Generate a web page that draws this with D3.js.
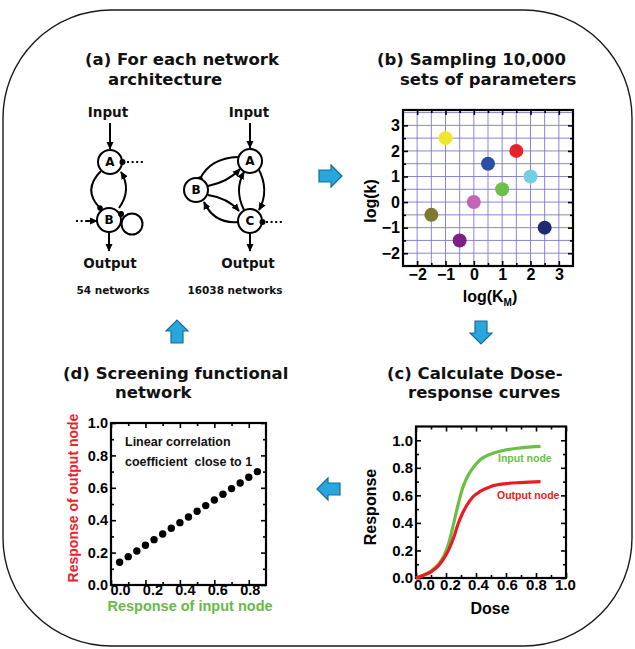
<!DOCTYPE html>
<html><head><meta charset="utf-8">
<script src="https://cdn.jsdelivr.net/npm/d3@7"></script>
<style>
html,body{margin:0;padding:0;background:#fff;}
svg{display:block;}
</style></head><body>
<svg id="fig" width="635" height="649"></svg>
<script>
// ---------- panel (b): sampled parameter sets ----------
const logKM = [-1, 1.5, 0.5, 2, 1, 0, -1.5, 2.5, -0.5];
const logK  = [2.5, 2, 1.5, 1, 0.5, 0, -0.5, -1, -1.5];
const paramColors = ["#f2e530", "#e8232a", "#2c4fa6", "#70d0e2", "#6cbf47", "#c463b5", "#7b7a2e", "#1e2a72", "#7b2183"];
const kmTicks = [-2, -1, 0, 1, 2, 3];
const kTicks = [-2, -1, 0, 1, 2, 3];
const kmGrid = [-2, -1.5, -1, -0.5, 0, 0.5, 1, 1.5, 2, 2.5, 3];
const kGrid = [-2, -1.5, -1, -0.5, 0, 0.5, 1, 1.5, 2, 2.5, 3, 3.5];

// ---------- panel (c): dose-response curves ----------
const dose =           [0, 0.05, 0.10, 0.15, 0.19, 0.22, 0.25, 0.28, 0.31, 0.34, 0.38, 0.43, 0.50, 0.60, 0.70, 0.83];
const inputResponse =  [0, 0.02, 0.05, 0.10, 0.17, 0.26, 0.39, 0.53, 0.65, 0.73, 0.80, 0.86, 0.90, 0.93, 0.945, 0.955];
const outputResponse = [0, 0.02, 0.045, 0.09, 0.15, 0.21, 0.29, 0.39, 0.47, 0.53, 0.59, 0.63, 0.665, 0.685, 0.693, 0.70];
const doseTicks = [0, 0.2, 0.4, 0.6, 0.8, 1.0];
const responseTicks = [0, 0.2, 0.4, 0.6, 0.8, 1.0];

// ---------- panel (d): screened network ----------
const inputNode  = [0.05, 0.10, 0.15, 0.20, 0.25, 0.30, 0.35, 0.40, 0.45, 0.50, 0.55, 0.60, 0.65, 0.70, 0.75, 0.80, 0.85];
const outputNode = [0.14, 0.175, 0.21, 0.245, 0.28, 0.315, 0.35, 0.385, 0.42, 0.455, 0.49, 0.525, 0.56, 0.595, 0.63, 0.665, 0.70];
const inTicks = [0, 0.2, 0.4, 0.6, 0.8];
const outTicks = [0, 0.2, 0.4, 0.6, 0.8, 1.0];

const svg = d3.select("#fig");
const TITLE_FONT = "'DejaVu Sans', Verdana, sans-serif";
const AXIS_FONT = "'Liberation Sans', Arial, sans-serif";

// outer rounded frame
svg.append("rect").attr("x", 3).attr("y", 10).attr("width", 629).attr("height", 636)
  .attr("rx", 108).attr("ry", 108).attr("fill", "none").attr("stroke", "#1a1a1a").attr("stroke-width", 1.4);

// two-line panel titles
function title(lines) {
  const t = svg.append("text").attr("font-family", TITLE_FONT).attr("font-weight", "bold")
    .attr("font-size", 16.5).attr("fill", "#111");
  lines.forEach(l => t.append("tspan").attr("x", l[0]).attr("y", l[1]).text(l[2]));
}
title([[85, 65, "(a) For each network"], [108, 85, "architecture"]]);
title([[377, 65, "(b) Sampling 10,000"], [400, 85, "sets of parameters"]]);
title([[63, 379, "(d) Screening functional"], [115, 398, "network"]]);
title([[387, 379, "(c) Calculate Dose-"], [408, 398, "response curves"]]);

// block arrows between panels
function blockArrow(cx, cy, angle) {
  svg.append("path")
    .attr("d", "M-11,-6 L1,-6 L1,-11 L12,0 L1,11 L1,6 L-11,6 Z")
    .attr("transform", `translate(${cx},${cy}) rotate(${angle})`)
    .attr("fill", "#2aa6de").attr("stroke", "#176c98").attr("stroke-width", 1.2);
}
blockArrow(330, 176, 0);
blockArrow(481, 332, 90);
blockArrow(329, 489, 180);
blockArrow(177, 332, -90);

// ---------- framed plot helper ----------
function framedPlot(g, x, y, o) {
  const [x0, x1] = x.range(), [y0, y1] = y.range();
  const styleAxis = sel => {
    sel.select(".domain").remove();
    sel.selectAll(".tick line").attr("stroke", "#000").attr("stroke-width", 1.6);
    sel.selectAll(".tick text").attr("font-family", AXIS_FONT).attr("font-weight", "bold")
      .attr("font-size", o.fontSize).attr("fill", "#000");
  };
  const put = (axis, tx, ty, labels) => {
    const a = g.append("g").attr("transform", `translate(${tx},${ty})`).call(axis);
    styleAxis(a);
    if (!labels) a.selectAll(".tick text").remove();
    return a;
  };
  const major = 5, minor = 3;
  const xb = put(d3.axisBottom(x).tickValues(o.xTicks).tickSizeInner(-major).tickSizeOuter(0).tickPadding(o.xPad).tickFormat(o.xFmt), 0, y0, true);
  put(d3.axisBottom(x).tickValues(o.xMinor).tickSizeInner(-minor).tickSizeOuter(0), 0, y0, false);
  put(d3.axisTop(x).tickValues(o.xTicks).tickSizeInner(-major).tickSizeOuter(0), 0, y1, false);
  put(d3.axisTop(x).tickValues(o.xMinor).tickSizeInner(-minor).tickSizeOuter(0), 0, y1, false);
  const yl = put(d3.axisLeft(y).tickValues(o.yTicks).tickSizeInner(-major).tickSizeOuter(0).tickPadding(3).tickFormat(o.yFmt), x0, 0, true);
  put(d3.axisLeft(y).tickValues(o.yMinor).tickSizeInner(-minor).tickSizeOuter(0), x0, 0, false);
  put(d3.axisRight(y).tickValues(o.yTicks).tickSizeInner(-major).tickSizeOuter(0), x1, 0, false);
  put(d3.axisRight(y).tickValues(o.yMinor).tickSizeInner(-minor).tickSizeOuter(0), x1, 0, false);
  g.append("rect").attr("x", x0).attr("y", y1).attr("width", x1 - x0).attr("height", y0 - y1)
    .attr("fill", "none").attr("stroke", "#000").attr("stroke-width", 2.2);
  if (o.xShift) xb.selectAll(".tick text").attr("dx", (d, i) => o.xShift[i]);
  return { xb, yl };
}

// ---------- panel (b) ----------
{
  const g = svg.append("g");
  const x = d3.scaleLinear().domain([-2.5, 3.5]).range([403, 573]);
  const y = d3.scaleLinear().domain([-2.5, 3.6]).range([266, 110]);
  g.append("g").selectAll("line").data(kmGrid).join("line")
    .attr("x1", d => x(d)).attr("x2", d => x(d)).attr("y1", y.range()[0]).attr("y2", y.range()[1])
    .attr("stroke", "#7d76d0").attr("stroke-width", 0.9);
  g.append("g").selectAll("line").data(kGrid).join("line")
    .attr("y1", d => y(d)).attr("y2", d => y(d)).attr("x1", x.range()[0]).attr("x2", x.range()[1])
    .attr("stroke", "#7d76d0").attr("stroke-width", 0.9);
  framedPlot(g, x, y, {
    xTicks: kmTicks, xMinor: [-1.5, -0.5, 0.5, 1.5, 2.5], yTicks: kTicks, yMinor: [-1.5, -0.5, 0.5, 1.5, 2.5],
    xFmt: d3.format("d"), yFmt: d3.format("d"), fontSize: 16, xPad: 3
  });
  g.append("g").selectAll("circle").data(logKM).join("circle")
    .attr("cx", d => x(d)).attr("cy", (d, i) => y(logK[i])).attr("r", 7)
    .attr("fill", (d, i) => paramColors[i]);
  g.append("text").attr("transform", "translate(376,201) rotate(-90)").attr("text-anchor", "middle")
    .attr("font-family", AXIS_FONT).attr("font-weight", "bold").attr("font-size", 16).text("log(k)");
  const xl = g.append("text").attr("x", 490).attr("y", 302).attr("text-anchor", "middle")
    .attr("font-family", AXIS_FONT).attr("font-weight", "bold").attr("font-size", 16);
  xl.append("tspan").text("log(K");
  xl.append("tspan").attr("font-size", 10).attr("dy", 4).text("M");
  xl.append("tspan").attr("dy", -4).text(")");
}

// ---------- panel (c) ----------
{
  const g = svg.append("g");
  const x = d3.scaleLinear().domain([0, 1]).range([416, 566]);
  const y = d3.scaleLinear().domain([0, 1.1]).range([578, 426.5]);
  framedPlot(g, x, y, {
    xTicks: doseTicks, xMinor: [0.1, 0.3, 0.5, 0.7, 0.9], yTicks: responseTicks, yMinor: [0.1, 0.3, 0.5, 0.7, 0.9],
    xFmt: d3.format(".1f"), yFmt: d3.format(".1f"), fontSize: 15, xPad: 1,
    xShift: [8, 4, 2, 1, 0, -1]
  });
  const line = (ys) => d3.line().x(d => x(d)).y((d, i) => y(ys[i])).curve(d3.curveMonotoneX);
  g.append("path").attr("d", line(inputResponse)(dose)).attr("fill", "none")
    .attr("stroke", "#6cbf45").attr("stroke-width", 3.2);
  g.append("path").attr("d", line(outputResponse)(dose)).attr("fill", "none")
    .attr("stroke", "#e81c22").attr("stroke-width", 3.2);
  g.append("text").attr("x", 498).attr("y", 462).attr("font-family", AXIS_FONT).attr("font-weight", "bold")
    .attr("font-size", 10.5).attr("fill", "#6cbf45").text("Input node");
  g.append("text").attr("x", 497).attr("y", 499).attr("font-family", AXIS_FONT).attr("font-weight", "bold")
    .attr("font-size", 10.5).attr("fill", "#e81c22").text("Output node");
  g.append("text").attr("transform", "translate(376,507) rotate(-90)").attr("text-anchor", "middle")
    .attr("font-family", AXIS_FONT).attr("font-weight", "bold").attr("font-size", 16).text("Response");
  g.append("text").attr("x", 490).attr("y", 614).attr("text-anchor", "middle")
    .attr("font-family", AXIS_FONT).attr("font-weight", "bold").attr("font-size", 16).text("Dose");
}

// ---------- panel (d) ----------
{
  const g = svg.append("g");
  const x = d3.scaleLinear().domain([0, 0.9]).range([111, 266]);
  const y = d3.scaleLinear().domain([0, 1]).range([585, 423]);
  framedPlot(g, x, y, {
    xTicks: inTicks, xMinor: [0.1, 0.3, 0.5, 0.7], yTicks: outTicks, yMinor: [0.1, 0.3, 0.5, 0.7, 0.9],
    xFmt: d3.format(".1f"), yFmt: d3.format(".1f"), fontSize: 14.5, xPad: 0,
    xShift: [9, 7, 5, 3, 1]
  });
  g.append("g").selectAll("circle").data(inputNode).join("circle")
    .attr("cx", d => x(d)).attr("cy", (d, i) => y(outputNode[i])).attr("r", 3.7).attr("fill", "#000");
  const note = g.append("text").attr("font-family", AXIS_FONT).attr("font-weight", "bold")
    .attr("font-size", 12.5).attr("fill", "#111");
  note.append("tspan").attr("x", 125).attr("y", 446).text("Linear correlation");
  note.append("tspan").attr("x", 125).attr("y", 466).attr("xml:space", "preserve").text("coefficient  close to 1");
  g.append("text").attr("transform", "translate(78,498) rotate(-90)").attr("text-anchor", "middle")
    .attr("font-family", AXIS_FONT).attr("font-weight", "bold").attr("font-size", 14).attr("fill", "#e8232a")
    .text("Response of output node");
  g.append("text").attr("x", 190).attr("y", 611).attr("text-anchor", "middle")
    .attr("font-family", AXIS_FONT).attr("font-weight", "bold").attr("font-size", 14.5).attr("fill", "#6ab84a")
    .text("Response of input node");
}

// ---------- panel (a): network motifs ----------
{
  const defs = svg.append("defs");
  defs.append("marker").attr("id", "arrowHead").attr("viewBox", "0 -5 10 10").attr("refX", 9).attr("refY", 0)
    .attr("markerUnits", "userSpaceOnUse").attr("markerWidth", 8).attr("markerHeight", 8).attr("orient", "auto")
    .append("path").attr("d", "M0,-4.5L10,0L0,4.5Z").attr("fill", "#000");
  defs.append("marker").attr("id", "bluntHead").attr("viewBox", "-5 -5 10 10").attr("refX", 0).attr("refY", 0)
    .attr("markerUnits", "userSpaceOnUse").attr("markerWidth", 6).attr("markerHeight", 6).attr("orient", "auto")
    .append("circle").attr("r", 4.5).attr("fill", "#000");

  const g = svg.append("g").attr("fill", "none").attr("stroke", "#000").attr("stroke-width", 2);
  const edge = (d, end, start) => {
    const p = g.append("path").attr("d", d);
    if (end) p.attr("marker-end", `url(#${end})`);
    if (start) p.attr("marker-start", `url(#${start})`);
  };
  const dots = (x1, x2, yv) => g.append("line").attr("x1", x1).attr("x2", x2).attr("y1", yv).attr("y2", yv)
    .attr("stroke-dasharray", "2,2.6").attr("stroke-width", 2);

  // motif with two nodes
  edge("M110,123L110,149", "arrowHead");
  edge("M101,171Q82,190 100,208", "bluntHead");
  edge("M119,208Q132,190 121,172", "arrowHead");
  g.append("circle").attr("cx", 132).attr("cy", 224).attr("r", 10.5);
  edge("M109,232L109,251", "arrowHead");
  dots(76, 88, 221);
  edge("M87,221L97,221", "arrowHead");
  dots(127, 143, 162);

  // motif with three nodes
  edge("M250,123L250,148", "arrowHead");
  edge("M200,179Q210,158 238,157", null, "bluntHead");
  edge("M208,186Q228,182 240,169", "arrowHead");
  edge("M208,195Q228,198 239,211", "arrowHead");
  edge("M238,222Q214,224 204,202", "arrowHead");
  edge("M244,210Q234,190 244,172", "arrowHead");
  edge("M258,168Q270,190 259,210", "arrowHead");
  edge("M250,233L250,251", "arrowHead");
  dots(266, 284, 222);

  const nodes = [
    { id: "A", x: 110, y: 162 }, { id: "B", x: 109, y: 220 },
    { id: "A", x: 250, y: 161 }, { id: "B", x: 196, y: 190 }, { id: "C", x: 250, y: 221 }
  ];
  const ng = svg.append("g").selectAll("g").data(nodes).join("g")
    .attr("transform", d => `translate(${d.x},${d.y})`);
  ng.append("circle").attr("r", 12).attr("fill", "#fff").attr("stroke", "#000").attr("stroke-width", 2);
  ng.append("text").attr("text-anchor", "middle").attr("dy", "0.36em").attr("font-family", TITLE_FONT)
    .attr("font-weight", "bold").attr("font-size", 12).text(d => d.id);

  // inhibition contacts drawn on top of the nodes
  const blunts = [[122.5, 162], [121, 214], [262.5, 222]];
  svg.append("g").selectAll("circle").data(blunts).join("circle")
    .attr("cx", d => d[0]).attr("cy", d => d[1]).attr("r", 3).attr("fill", "#000");

  const lab = (tx, ty, s, size) => svg.append("text").attr("x", tx).attr("y", ty).attr("text-anchor", "middle")
    .attr("font-family", TITLE_FONT).attr("font-weight", "bold").attr("font-size", size).attr("fill", "#111").text(s);
  lab(108, 117, "Input", 13.5);
  lab(249, 117, "Input", 13.5);
  lab(110, 268, "Output", 13.5);
  lab(248, 268, "Output", 13.5);
  lab(113, 294, "54 networks", 10.5);
  lab(235, 294, "16038 networks", 10.5);
}
</script>
</body></html>
